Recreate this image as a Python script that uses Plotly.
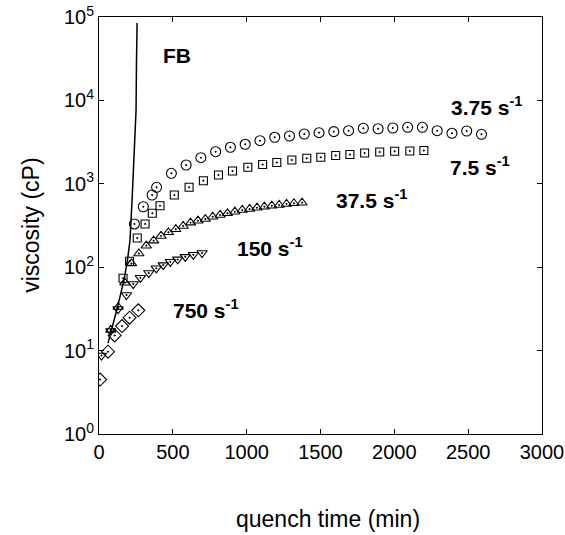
import numpy as np
import plotly.graph_objects as go

# FB curve (solid line)
fb_t = [61, 86, 120, 142, 169, 193, 210, 224, 237, 251, 254, 258]
fb_v = [12.3, 17.7, 30.7, 44, 70, 122, 212, 640, 2540, 7670, 30500, 84800]

# 3.75 s^-1 (circles)
c_t = [240, 300, 360, 390, 490, 590, 690, 790, 890, 990, 1090, 1190, 1290, 1390, 1490,
       1590, 1690, 1790, 1890, 1990, 2090, 2190, 2290, 2390, 2490, 2590]
c_v = [330, 531, 734, 908, 1336, 1680, 2056, 2427, 2741, 2977, 3288, 3611, 3742, 3955, 4100,
       4217, 4334, 4632, 4570, 4670, 4757, 4757, 4334, 4034, 4296, 3920]

# 7.5 s^-1 (squares)
s_t = [163, 207, 259, 312, 361, 413, 510, 610, 707, 809, 904, 1008, 1108, 1204, 1306,
       1407, 1502, 1603, 1699, 1799, 1901, 2002, 2105, 2200]
s_v = [73.6, 118, 224, 330, 443, 545, 734, 908, 1089, 1276, 1423, 1577, 1704, 1801, 1929,
       2023, 2080, 2184, 2246, 2341, 2406, 2454, 2473, 2509]

# 37.5 s^-1 (up triangles)
u_t = [80, 130, 175, 220, 270, 320, 370, 420, 470, 520, 570, 620, 670, 720, 770, 820,
       870, 920, 970, 1020, 1070, 1120, 1170, 1220, 1270, 1320, 1375]
u_v = [17.7, 33.3, 65.2, 111, 146, 181, 208, 237, 262, 285, 312, 342, 361, 378, 403, 423,
       443, 463, 485, 499, 517, 531, 546, 557, 573, 584, 593]

# 150 s^-1 (down triangles)
d_t = [17, 79, 129, 186, 232, 280, 337, 388, 435, 483, 533, 584, 639, 698]
d_v = [8.74, 17.2, 31.5, 46.4, 62.9, 74.6, 85.2, 97, 106, 116, 124, 133, 141, 148]

# 750 s^-1 (diamonds)
m_t = [7, 61, 106, 156, 207, 266]
m_v = [4.5, 9.7, 15.2, 19.7, 24.8, 30.4]

# labels
lab_text = ["FB", "3.75 s<sup>-1</sup>", "7.5 s<sup>-1</sup>", "37.5 s<sup>-1</sup>",
            "150 s<sup>-1</sup>", "750 s<sup>-1</sup>"]
lab_t = [525, 2623, 2582, 1843, 1159, 727]
lab_v = [34500, 8570, 1635, 657, 175, 31.5]

x_ticks = [0, 500, 1000, 1500, 2000, 2500, 3000]
y_ticks = [1, 10, 100, 1000, 10000, 100000]
y_ticktext = ["10<sup>%d</sup>" % i for i in range(6)]

FONT = "Liberation Sans, Arial, sans-serif"
mline = dict(color="black", width=1.1)

fig = go.Figure()
fig.add_trace(go.Scatter(x=fb_t, y=fb_v, mode="lines", line=dict(color="black", width=1.5),
                         showlegend=False))
series = [
    (c_t, c_v, "circle-open-dot", 10),
    (s_t, s_v, "square-open-dot", 8),
    (u_t, u_v, "triangle-up-open-dot", 9),
    (d_t, d_v, "triangle-down-open-dot", 9),
    (m_t, m_v, "diamond-open-dot", 10),
]
for t, v, sym, sz in series:
    fig.add_trace(go.Scatter(x=t, y=v, mode="markers",
                             marker=dict(symbol=sym, size=sz, color="black", line=mline),
                             showlegend=False))

for txt, t, v in zip(lab_text, lab_t, lab_v):
    fig.add_annotation(x=t, y=np.log10(v), xref="x", yref="y", text="<b>%s</b>" % txt,
                       showarrow=False, font=dict(family=FONT, size=21, color="black"))

# axis titles
fig.add_annotation(x=0.517, y=-0.205, xref="paper", yref="paper", text="quench time (min)",
                   showarrow=False, font=dict(family=FONT, size=23, color="black"),
                   xanchor="center", yanchor="middle")
fig.add_annotation(x=-0.155, y=0.5, xref="paper", yref="paper", text="viscosity (cP)",
                   showarrow=False, textangle=-90, font=dict(family=FONT, size=23, color="black"),
                   xanchor="center", yanchor="middle")

fig.update_xaxes(range=[0, 3000], tickvals=x_ticks, ticks="inside", ticklen=5, tickcolor="black",
                 showline=True, linecolor="black", linewidth=1, mirror="allticks",
                 showgrid=False, zeroline=False, automargin=False,
                 tickfont=dict(family=FONT, size=20, color="black"))
fig.update_yaxes(type="log", range=[0, 5], tickvals=y_ticks, ticktext=y_ticktext,
                 ticks="inside", ticklen=5, tickcolor="black",
                 showline=True, linecolor="black", linewidth=1, mirror="allticks",
                 showgrid=False, zeroline=False, automargin=False,
                 tickfont=dict(family=FONT, size=20, color="black"))

fig.update_layout(width=565, height=535, margin=dict(l=99, r=23, t=17, b=101),
                  paper_bgcolor="white", plot_bgcolor="white", font=dict(family=FONT))
fig.write_html("out.html", config={"displayModeBar": False},
               post_script="document.body.style.margin='0';")
